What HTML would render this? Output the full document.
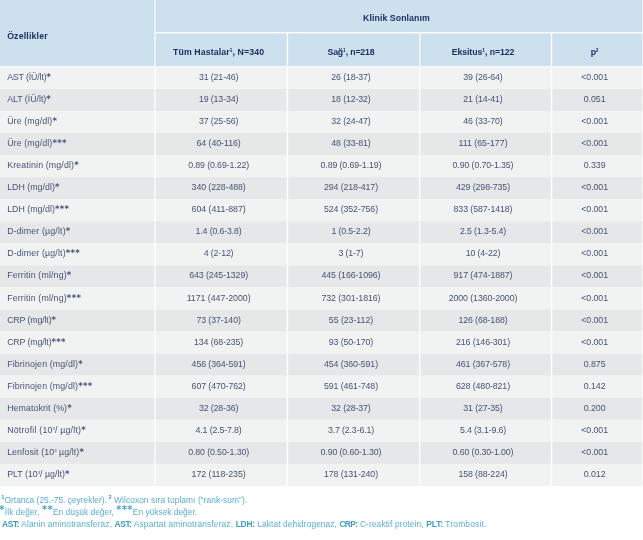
<!DOCTYPE html>
<html lang="tr"><head><meta charset="utf-8"><title>Tablo</title>
<style>
html,body{margin:0;padding:0;background:#fff;}
body{width:643px;height:540px;overflow:hidden;font-family:"Liberation Sans", sans-serif;}
#wrap{width:962px;height:808px;transform:scale(0.6685);transform-origin:0 0;position:relative;}
table{border-collapse:separate;border-spacing:0;table-layout:fixed;width:962px;color:#465476;line-height:18px;}
col.c1{width:233px}col.c2{width:198px}col.c3{width:198px}col.c4{width:197px}col.c5{width:136px}
th,td{box-sizing:border-box;overflow:hidden;white-space:nowrap;vertical-align:top;text-align:center;border-right:2px solid #fff;}
th{background:#cde0ee;color:#1b3160;font-weight:bold;font-size:13.06px;height:50px;padding:20.14px 0 0 0;border-bottom:2px solid #fff;}
tr.h1 th{height:50.3px;}
tr.h1 th+th{padding-top:19.14px;}
tr.h2 th{height:50.7px;}
th.l{height:101px;padding-top:45.14px;}
td{height:33px;padding:6.4px 0 0 0;font-size:13.18px;}
th.l,td:first-child{text-align:left;padding-left:10.7px;}
td:first-child{font-size:13.16px;}
td sup{font-size:6.4px;}
td:first-child>span:first-child{position:relative;top:0.01px;}
th:last-child,td:last-child{border-right:1px solid #fff}
th+th span,tr.h2 th span,td+td span{position:relative;left:-4px;}
tbody tr:first-child td{height:32.2px;padding-top:5.6px;}
tr.u td{padding-top:5.4px;}
tr.o td{background:#f1f2f2}
tr.e td{background:#e6e7e8}
sup{font-size:7.2px;line-height:0;vertical-align:5px;letter-spacing:0;}
.as{font-family:"DejaVu Sans","Liberation Sans",sans-serif;font-weight:bold;font-size:12.69px;line-height:0;vertical-align:0px;letter-spacing:0.48px;margin-left:0.15px;}
#foot{font-size:12.5px;line-height:18px;color:#58aed6;padding:12.92px 0 0 3px;white-space:nowrap;}
#foot b{color:#3a9bcc;}
#foot sup.n{font-size:8.5px;vertical-align:5px;font-weight:bold;color:#3a9bcc;margin-left:-1px;position:relative;top:-1px;}
#foot sup.a{font-family:"DejaVu Sans","Liberation Sans",sans-serif;font-weight:bold;font-size:14.76px;vertical-align:3px;letter-spacing:0.54px;color:#48a3d0;}
#foot sup.a0{margin-left:-4px;}
</style></head><body><div id="wrap">
<table><colgroup><col class="c1"><col class="c2"><col class="c3"><col class="c4"><col class="c5"></colgroup>
<thead>
<tr class="h1"><th class="l" rowspan="2"><span style="letter-spacing:0.29px">Özellikler</span></th><th colspan="4"><span style="letter-spacing:0.13px">Klinik Sonlanım</span></th></tr>
<tr class="h2"><th><span style="letter-spacing:0.19px">Tüm Hastalar<sup>1</sup>, N=340</span></th><th><span style="letter-spacing:-0.24px">Sağ<sup>1</sup>, n=218</span></th><th><span style="letter-spacing:-0.09px">Eksitus<sup>1</sup>, n=122</span></th><th><span style="letter-spacing:-0.44px">p<sup>2</sup></span></th></tr>
</thead><tbody>
<tr class="o"><td><span style="letter-spacing:-0.21px">AST (İÜ/lt)</span><span class="as">*</span></td><td><span style="letter-spacing:-0.19px">31 (21-46)</span></td><td><span style="letter-spacing:-0.19px">26 (18-37)</span></td><td><span style="letter-spacing:-0.19px">39 (26-64)</span></td><td><span style="letter-spacing:-0.12px">&lt;0.001</span></td></tr>
<tr class="e"><td><span style="letter-spacing:-0.02px">ALT (İÜ/lt)</span><span class="as">*</span></td><td><span style="letter-spacing:-0.19px">19 (13-34)</span></td><td><span style="letter-spacing:-0.19px">18 (12-32)</span></td><td><span style="letter-spacing:-0.19px">21 (14-41)</span></td><td><span style="letter-spacing:-0.07px">0.051</span></td></tr>
<tr class="o"><td><span style="letter-spacing:0.17px">Üre (mg/dl)</span><span class="as">*</span></td><td><span style="letter-spacing:-0.19px">37 (25-56)</span></td><td><span style="letter-spacing:-0.19px">32 (24-47)</span></td><td><span style="letter-spacing:-0.19px">46 (33-70)</span></td><td><span style="letter-spacing:-0.12px">&lt;0.001</span></td></tr>
<tr class="e"><td><span style="letter-spacing:0.17px">Üre (mg/dl)</span><span class="as">***</span></td><td><span style="letter-spacing:-0.08px">64 (40-116)</span></td><td><span style="letter-spacing:-0.19px">48 (33-81)</span></td><td><span style="letter-spacing:0.01px">111 (65-177)</span></td><td><span style="letter-spacing:-0.12px">&lt;0.001</span></td></tr>
<tr class="o"><td><span style="letter-spacing:0.22px">Kreatinin (mg/dl)</span><span class="as">*</span></td><td><span style="letter-spacing:-0.17px">0.89 (0.69-1.22)</span></td><td><span style="letter-spacing:-0.17px">0.89 (0.69-1.19)</span></td><td><span style="letter-spacing:-0.17px">0.90 (0.70-1.35)</span></td><td><span style="letter-spacing:-0.07px">0.339</span></td></tr>
<tr class="e u"><td><span style="letter-spacing:0.04px">LDH (mg/dl)</span><span class="as">*</span></td><td><span style="letter-spacing:-0.15px">340 (228-488)</span></td><td><span style="letter-spacing:-0.15px">294 (218-417)</span></td><td><span style="letter-spacing:-0.15px">429 (298-735)</span></td><td><span style="letter-spacing:-0.12px">&lt;0.001</span></td></tr>
<tr class="o u"><td><span style="letter-spacing:0.04px">LDH (mg/dl)</span><span class="as">***</span></td><td><span style="letter-spacing:-0.07px">604 (411-887)</span></td><td><span style="letter-spacing:-0.15px">524 (352-756)</span></td><td><span style="letter-spacing:-0.14px">833 (587-1418)</span></td><td><span style="letter-spacing:-0.12px">&lt;0.001</span></td></tr>
<tr class="e u"><td><span style="letter-spacing:0.22px">D-dimer (µg/lt)</span><span class="as">*</span></td><td><span style="letter-spacing:-0.21px">1.4 (0.6-3.8)</span></td><td><span style="letter-spacing:-0.22px">1 (0.5-2.2)</span></td><td><span style="letter-spacing:-0.21px">2.5 (1.3-5.4)</span></td><td><span style="letter-spacing:-0.12px">&lt;0.001</span></td></tr>
<tr class="o u"><td><span style="letter-spacing:0.22px">D-dimer (µg/lt)</span><span class="as">***</span></td><td><span style="letter-spacing:-0.23px">4 (2-12)</span></td><td><span style="letter-spacing:-0.26px">3 (1-7)</span></td><td><span style="letter-spacing:-0.21px">10 (4-22)</span></td><td><span style="letter-spacing:-0.12px">&lt;0.001</span></td></tr>
<tr class="e u"><td><span style="letter-spacing:0.23px">Ferritin (ml/ng)</span><span class="as">*</span></td><td><span style="letter-spacing:-0.14px">643 (245-1329)</span></td><td><span style="letter-spacing:-0.14px">445 (166-1096)</span></td><td><span style="letter-spacing:-0.14px">917 (474-1887)</span></td><td><span style="letter-spacing:-0.12px">&lt;0.001</span></td></tr>
<tr class="o"><td><span style="letter-spacing:0.23px">Ferritin (ml/ng)</span><span class="as">***</span></td><td><span style="letter-spacing:-0.06px">1171 (447-2000)</span></td><td><span style="letter-spacing:-0.14px">732 (301-1816)</span></td><td><span style="letter-spacing:-0.12px">2000 (1360-2000)</span></td><td><span style="letter-spacing:-0.12px">&lt;0.001</span></td></tr>
<tr class="e"><td><span style="letter-spacing:-0.20px">CRP (mg/lt)</span><span class="as">*</span></td><td><span style="letter-spacing:-0.17px">73 (37-140)</span></td><td><span style="letter-spacing:-0.08px">55 (23-112)</span></td><td><span style="letter-spacing:-0.16px">126 (68-188)</span></td><td><span style="letter-spacing:-0.12px">&lt;0.001</span></td></tr>
<tr class="o"><td><span style="letter-spacing:-0.20px">CRP (mg/lt)</span><span class="as">***</span></td><td><span style="letter-spacing:-0.16px">134 (68-235)</span></td><td><span style="letter-spacing:-0.17px">93 (50-170)</span></td><td><span style="letter-spacing:-0.15px">216 (146-301)</span></td><td><span style="letter-spacing:-0.12px">&lt;0.001</span></td></tr>
<tr class="e"><td><span style="letter-spacing:0.21px">Fibrinojen (mg/dl)</span><span class="as">*</span></td><td><span style="letter-spacing:-0.15px">456 (364-591)</span></td><td><span style="letter-spacing:-0.15px">454 (360-591)</span></td><td><span style="letter-spacing:-0.15px">461 (367-578)</span></td><td><span style="letter-spacing:-0.07px">0.875</span></td></tr>
<tr class="o"><td><span style="letter-spacing:0.21px">Fibrinojen (mg/dl)</span><span class="as">***</span></td><td><span style="letter-spacing:-0.15px">607 (470-762)</span></td><td><span style="letter-spacing:-0.15px">591 (461-748)</span></td><td><span style="letter-spacing:-0.15px">628 (480-821)</span></td><td><span style="letter-spacing:-0.07px">0.142</span></td></tr>
<tr class="e"><td><span style="letter-spacing:0.14px">Hematokrit (%)</span><span class="as">*</span></td><td><span style="letter-spacing:-0.19px">32 (28-36)</span></td><td><span style="letter-spacing:-0.19px">32 (28-37)</span></td><td><span style="letter-spacing:-0.19px">31 (27-35)</span></td><td><span style="letter-spacing:-0.07px">0.200</span></td></tr>
<tr class="o"><td><span style="letter-spacing:0.30px">Nötrofil (10<sup>3</sup>/ µg/lt)</span><span class="as">*</span></td><td><span style="letter-spacing:-0.21px">4.1 (2.5-7.8)</span></td><td><span style="letter-spacing:-0.21px">3.7 (2.3-6.1)</span></td><td><span style="letter-spacing:-0.21px">5.4 (3.1-9.6)</span></td><td><span style="letter-spacing:-0.12px">&lt;0.001</span></td></tr>
<tr class="e"><td><span style="letter-spacing:0.13px">Lenfosit (10<sup>3</sup> µg/lt)</span><span class="as">*</span></td><td><span style="letter-spacing:-0.17px">0.80 (0.50-1.30)</span></td><td><span style="letter-spacing:-0.17px">0.90 (0.60-1.30)</span></td><td><span style="letter-spacing:-0.17px">0.60 (0.30-1.00)</span></td><td><span style="letter-spacing:-0.12px">&lt;0.001</span></td></tr>
<tr class="o"><td><span style="letter-spacing:0.02px">PLT (10<sup>3</sup>/ µg/lt)</span><span class="as">*</span></td><td><span style="letter-spacing:-0.07px">172 (118-235)</span></td><td><span style="letter-spacing:-0.15px">178 (131-240)</span></td><td><span style="letter-spacing:-0.16px">158 (88-224)</span></td><td><span style="letter-spacing:-0.07px">0.012</span></td></tr>
</tbody></table>
<div id="foot"><sup class="n">1</sup><span style="letter-spacing:0.01px">Ortanca (25.-75. çeyrekler). </span><sup class="n">2</sup><span style="letter-spacing:0.11px"> Wilcoxon sıra toplamı (“rank-sum”).</span><br>
<sup class="a a0">*</sup><span style="letter-spacing:0.11px">İlk değer, </span><sup class="a">**</sup><span style="letter-spacing:0.06px">En düşük değer, </span><sup class="a">***</sup><span style="letter-spacing:0.01px">En yüksek değer.</span><br>
<b><span style="letter-spacing:-0.50px">AST:</span></b><span style="letter-spacing:0.20px"> Alanin aminotransferaz, </span><b><span style="letter-spacing:-0.50px">AST:</span></b><span style="letter-spacing:0.22px"> Aspartat aminotransferaz, </span><b><span style="letter-spacing:-0.25px">LDH:</span></b><span style="letter-spacing:0.12px"> Laktat dehidrogenaz, </span><b><span style="letter-spacing:-0.87px">CRP:</span></b><span style="letter-spacing:0.17px"> C-reaktif protein, </span><b><span style="letter-spacing:-0.07px">PLT:</span></b><span style="letter-spacing:0.29px"> Trombosit.</span></div>
</div></body></html>
